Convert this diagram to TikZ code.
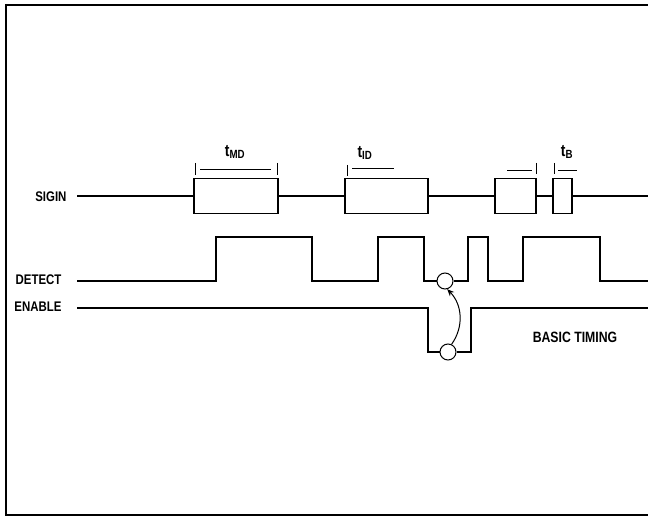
\documentclass[tikz,border=0pt]{standalone}
\usepackage{fontspec}
\setmainfont{Liberation Sans}[FakeStretch=0.82]
\usetikzlibrary{arrows.meta, positioning, calc}

\begin{document}
\begin{tikzpicture}[x=1bp, y=-1bp, font=\fontsize{14}{16}\selectfont\bfseries, >=Stealth,
   line width=1.1bp,
   sigbox/.style={draw, line width=1.1bp, inner sep=0pt, minimum height=35bp},
   lbl/.style={anchor=east, inner sep=0pt},
   ring/.style={circle, draw, fill=white, line width=1bp, minimum size=16bp, inner sep=0pt},
   tick/.style={line width=0.9bp},
   wlbl/.style={font=\fontsize{17}{19}\selectfont\bfseries, inner sep=0pt}]
\useasboundingbox (0,0) rectangle (648,518);
% frame, open at the right
\draw[line width=2bp] (648,5) -- (6,5);
\draw[line width=1.4bp] (6,4) -- (6,515) -- (648,515);

% SIGIN line and its boxes
\node[lbl] (sigin) at (67,197) {SIGIN};
\coordinate (s0) at (77,196);
\coordinate (s1) at (648,196);
\node[sigbox, minimum width=84bp] (b1) at (236,196) {};
\node[sigbox, minimum width=83bp] (b2) at (386.5,196) {};
\node[sigbox, minimum width=41bp] (b3) at (515.5,196) {};
\node[sigbox, minimum width=19bp] (b4) at (562.5,196) {};
\draw (s0) -- (b1.west) (b1.east) -- (b2.west) (b2.east) -- (b3.west)
      (b3.east) -- (b4.west) (b4.east) -- (s1);

% widths above the boxes
\node[wlbl] (tmd) at (235,152) {t\textsubscript{MD}};
\draw[tick] (195,163) -- (195,175) (277,163) -- (277,175) (200,169) -- (271,169);
\node[wlbl] (tid) at (365,153) {t\textsubscript{ID}};
\draw[tick] (347,165) -- (347,176) (352,168) -- (394,168);
\node[wlbl] (tb) at (567,152) {t\textsubscript{B}};
\draw[tick] (507,170) -- (532,170) (536,163) -- (536,174)
            (554,163) -- (554,174) (558,170) -- (577,170);

% DETECT
\node[lbl] (det) at (62,280) {DETECT};
\node[ring] (c1) at (445,281) {};
\draw (77,281) -- (216,281) -- (216,237) -- (312,237) -- (312,281) -- (378,281)
      -- (378,237) -- (424,237) -- (424,281) -- (c1.west);
\draw (c1.east) -- (468,281) -- (468,237) -- (488,237) -- (488,281) -- (523,281)
      -- (523,237) -- (600,237) -- (600,281) -- (648,281);

% ENABLE
\node[lbl] (en) at (62,307) {ENABLE};
\node[ring] (c2) at (448,352) {};
\draw (77,308) -- (428,308) -- (428,352) -- (c2.west);
\draw (c2.east) -- (471,352) -- (471,308) -- (648,308);

\draw[-{Stealth[length=7bp,width=6bp]}, line width=1bp] (c2.65) to[bend right=40] (c1.-75);

\node[font=\fontsize{15}{17}\selectfont\bfseries] (title) at (575,337) {BASIC TIMING};
\end{tikzpicture}
\end{document}
